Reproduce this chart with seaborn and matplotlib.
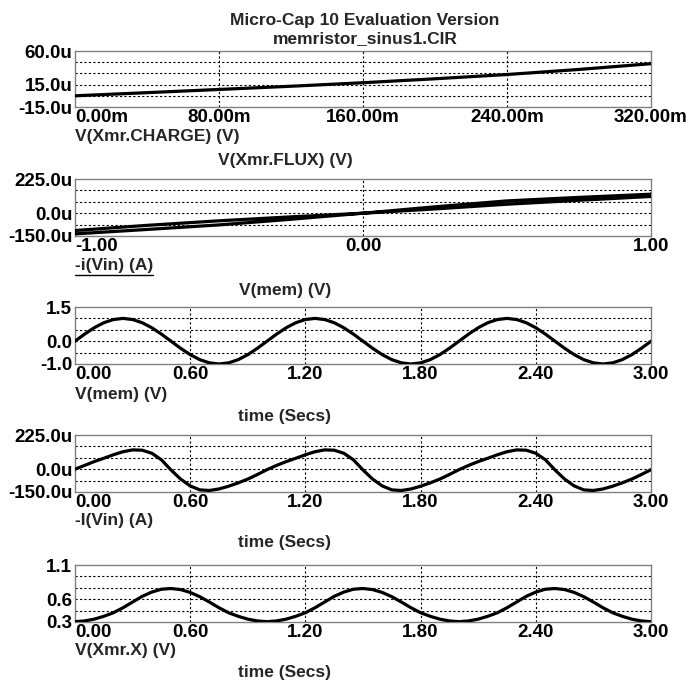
import numpy as np
import matplotlib
matplotlib.use("Agg")
import matplotlib.pyplot as plt
from matplotlib.lines import Line2D
import seaborn as sns

# ---- data ----
# panel 1: charge vs flux (flux in m, charge in u)
flux_m = [0, 40, 80, 120, 160, 200, 240, 280, 320]
charge_u = [0.0, 4.2, 8.5, 12.8, 17.5, 22.8, 28.5, 35.3, 43.0]

# panel 2: pinched hysteresis loop, V(mem) vs -i(Vin) (u)
loop_v = [1.00, 0.75, 0.50, 0.25, 0.00, -0.25, -0.50, -0.75, -1.00,
          -1.00, -0.75, -0.50, -0.25, 0.00, 0.25, 0.50, 0.75, 1.00, 1.00]
loop_i = [125, 104, 81, 42, 0, -24, -50, -80, -114,
          -136, -107, -77, -40, 0, 28, 59, 85, 110, 125]

# panels 3-5: transient, t = 0 .. 3 s in 0.05 s steps
time_s = np.linspace(0, 3, 61)
v_mem = [0.00, 0.31, 0.59, 0.81, 0.95, 1.00, 0.95, 0.81, 0.59, 0.31,
         0.00, -0.31, -0.59, -0.81, -0.95, -1.00, -0.95, -0.81, -0.59, -0.31,
         0.00, 0.31, 0.59, 0.81, 0.95, 1.00, 0.95, 0.81, 0.59, 0.31,
         0.00, -0.31, -0.59, -0.81, -0.95, -1.00, -0.95, -0.81, -0.59, -0.31,
         0.00, 0.31, 0.59, 0.81, 0.95, 1.00, 0.95, 0.81, 0.59, 0.31,
         0.00, -0.31, -0.59, -0.81, -0.95, -1.00, -0.95, -0.81, -0.59, -0.31,
         0.00]
i_vin_u = [0, 25, 50, 72, 95, 115, 127, 125, 105, 62,
           -5, -65, -110, -136, -140, -130, -112, -90, -65, -35,
           -3, 25, 50, 72, 95, 115, 127, 125, 105, 62,
           -5, -65, -110, -136, -140, -130, -112, -90, -65, -35,
           -3, 25, 50, 72, 95, 115, 127, 125, 105, 62,
           -5, -65, -110, -136, -140, -130, -112, -90, -65, -35,
           -3]
x_state = [0.305, 0.315, 0.34, 0.38, 0.43, 0.50, 0.58, 0.66, 0.72, 0.76,
           0.77, 0.755, 0.715, 0.655, 0.58, 0.50, 0.43, 0.38, 0.34, 0.315,
           0.305, 0.315, 0.34, 0.38, 0.43, 0.50, 0.58, 0.66, 0.72, 0.76,
           0.77, 0.755, 0.715, 0.655, 0.58, 0.50, 0.43, 0.38, 0.34, 0.315,
           0.305, 0.315, 0.34, 0.38, 0.43, 0.50, 0.58, 0.66, 0.72, 0.76,
           0.77, 0.755, 0.715, 0.655, 0.58, 0.50, 0.43, 0.38, 0.34, 0.315,
           0.305]

time_ticks = [0, 0.6, 1.2, 1.8, 2.4, 3.0]
time_labels = ["0.00", "0.60", "1.20", "1.80", "2.40", "3.00"]

sns.set_theme(style="white")
plt.rcParams["font.family"] = ["Liberation Sans", "DejaVu Sans"]
plt.rcParams["font.weight"] = "bold"

W, H = 700, 684
fig = plt.figure(figsize=(W / 100, H / 100), dpi=100)
FS = 12.5      # captions
TFS = 13.5     # tick labels


def px_axes(top, bottom, left=75, right=651):
    return fig.add_axes([left / W, 1 - bottom / H, (right - left) / W, (bottom - top) / H])


def style_panel(ax, xlim, ylim, xgrid, ygrid, xticks, xlabels, yticks, ylabels):
    ax.set_xlim(*xlim)
    ax.set_ylim(*ylim)
    for g in xgrid:
        ax.axvline(g, color="black", lw=0.8, ls=(0, (2, 2)), zorder=1)
    for g in ygrid:
        ax.axhline(g, color="black", lw=0.8, ls=(0, (2, 2)), zorder=1)
    ax.set_xticks(xticks)
    ax.set_xticklabels(xlabels, fontsize=TFS, fontweight="bold")
    ax.set_yticks(yticks)
    ax.set_yticklabels(ylabels, fontsize=TFS, fontweight="bold")
    ax.tick_params(axis="x", length=0, pad=1.5, colors="black")
    ax.tick_params(axis="y", length=0, pad=2.0, colors="black")
    ax.get_xticklabels()[0].set_horizontalalignment("left")
    for s in ax.spines.values():
        s.set_color("#808080")
        s.set_linewidth(1.0)
    ax.set_xlabel("")
    ax.set_ylabel("")


def ftext(x, y, s, ha="left", size=FS):
    return fig.text(x / W, 1 - y / H, s, ha=ha, va="center", fontsize=size, fontweight="bold")


line_kw = dict(color="black", lw=2.3, estimator=None, sort=False, zorder=3)

# title
ftext(365, 20, "Micro-Cap 10 Evaluation Version", ha="center")
ftext(365, 39, "memristor_sinus1.CIR", ha="center")

# panel 1
ax1 = px_axes(51, 107)
sns.lineplot(x=flux_m, y=charge_u, ax=ax1, **line_kw)
style_panel(ax1, (0, 320), (-15, 60), [80, 160, 240], [0, 15, 30, 45],
            [0, 80, 160, 240, 320], ["0.00m", "80.00m", "160.00m", "240.00m", "320.00m"],
            [-15, 15, 60], ["-15.0u", "15.0u", "60.0u"])
ftext(75, 137, "V(Xmr.CHARGE) (V)")
ftext(285, 160, "V(Xmr.FLUX) (V)", ha="center")

# panel 2
ax2 = px_axes(179, 236)
sns.lineplot(x=loop_v, y=loop_i, ax=ax2, **line_kw)
style_panel(ax2, (-1, 1), (-150, 225), [0], [-75, 0, 75, 150],
            [-1, 0, 1], ["-1.00", "0.00", "1.00"],
            [-150, 0, 225], ["-150.0u", "0.0u", "225.0u"])
lbl = ftext(75, 266, "-i(Vin) (A)")
ftext(285, 291, "V(mem) (V)", ha="center")

# panel 3
ax3 = px_axes(307, 364)
sns.lineplot(x=time_s, y=v_mem, ax=ax3, **line_kw)
style_panel(ax3, (0, 3), (-1.0, 1.5), time_ticks[1:-1], [-0.5, 0, 0.5, 1.0],
            time_ticks, time_labels, [-1.0, 0.0, 1.5], ["-1.0", "0.0", "1.5"])
ftext(75, 395, "V(mem) (V)")
ftext(285, 417, "time (Secs)", ha="center")

# panel 4
ax4 = px_axes(435, 492)
sns.lineplot(x=time_s, y=i_vin_u, ax=ax4, **line_kw)
style_panel(ax4, (0, 3), (-150, 225), time_ticks[1:-1], [-75, 0, 75, 150],
            time_ticks, time_labels, [-150, 0, 225], ["-150.0u", "0.0u", "225.0u"])
ftext(75, 521, "-I(Vin) (A)")
ftext(285, 543, "time (Secs)", ha="center")

# panel 5
ax5 = px_axes(565, 622)
sns.lineplot(x=time_s, y=x_state, ax=ax5, **line_kw)
style_panel(ax5, (0, 3), (0.3, 1.1), time_ticks[1:-1], [0.46, 0.62, 0.78, 0.94],
            time_ticks, time_labels, [0.3, 0.62, 1.1], ["0.3", "0.6", "1.1"])
ftext(75, 651, "V(Xmr.X) (V)")
ftext(285, 673, "time (Secs)", ha="center")

# underline the active trace name of panel 2
fig.canvas.draw()
bb = lbl.get_window_extent()
y_ul = (bb.y0 - 1.0) / H
fig.add_artist(Line2D([bb.x0 / W, bb.x1 / W], [y_ul, y_ul], color="black", lw=1.0))

fig.savefig("out.png", dpi=100)
